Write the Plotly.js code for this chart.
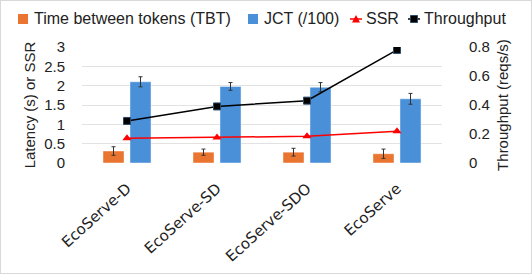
<!DOCTYPE html>
<html><head><meta charset="utf-8">
<script src="https://cdn.plot.ly/plotly-3.0.1.min.js"></script>
<style>html,body{margin:0;padding:0;background:#fff}#c{width:530px;height:272px;border:1px solid #d9d9d9}</style>
</head><body><div id="c"></div>
<script>
const categories = ["EcoServe-D", "EcoServe-SD", "EcoServe-SDO", "EcoServe"];
const tbt = [0.31, 0.28, 0.28, 0.24];
const tbtErr = [0.11, 0.08, 0.10, 0.12];
const jct = [2.10, 1.98, 1.96, 1.66];
const jctErr = [0.13, 0.10, 0.12, 0.14];
const ssr = [0.64, 0.66, 0.69, 0.82];
const throughput = [0.29, 0.39, 0.43, 0.78];
const seriesNames = ["Time between tokens (TBT)", "JCT (/100)", "SSR", "Throughput"];
const seriesColors = ["#ea7530", "#4a90d9", "#ff0000", "#000000"];

const font = "Liberation Sans, Arial, sans-serif";
const errStyle = {type: "data", visible: true, color: "#333", thickness: 1, width: 2};

const traces = [
  {type: "bar", name: seriesNames[0], x: categories, y: tbt,
   marker: {color: seriesColors[0], line: {color: "rgba(255,255,255,0.45)", width: 1}},
   error_y: Object.assign({array: tbtErr}, errStyle)},
  {type: "bar", name: seriesNames[1], x: categories, y: jct,
   marker: {color: seriesColors[1], line: {color: "rgba(255,255,255,0.45)", width: 1}},
   error_y: Object.assign({array: jctErr}, errStyle)},
  {type: "scatter", mode: "lines+markers", name: seriesNames[2], x: categories, y: ssr,
   line: {color: seriesColors[2], width: 1.5}, marker: {symbol: "triangle-up", size: 8, color: seriesColors[2]}},
  {type: "scatter", mode: "lines+markers", name: seriesNames[3], x: categories, y: throughput, yaxis: "y2",
   line: {color: seriesColors[3], width: 1.5}, marker: {symbol: "square", size: 7, color: seriesColors[3], line: {color: "#2a4a6a", width: 1}}}
];

// Manual legend (paper coordinates; plot spans x 82..442 px, y 47..163 px)
const px = p => (p - 82) / 360;
const py = p => (163 - p) / 116;
const legY = 19;
const legendTextX = [32, 262, 364, 422];
const annotations = seriesNames.map((n, i) => ({
  xref: "paper", yref: "paper", x: px(legendTextX[i]), y: py(legY), xanchor: "left", yanchor: "middle",
  text: n, showarrow: false, font: {family: font, size: 16, color: "#222"}
}));
const shapes = [
  {type: "rect", xref: "paper", yref: "paper", x0: px(18), x1: px(28), y0: py(24), y1: py(14), fillcolor: seriesColors[0], line: {width: 0}},
  {type: "rect", xref: "paper", yref: "paper", x0: px(248), x1: px(258), y0: py(24), y1: py(14), fillcolor: seriesColors[1], line: {width: 0}},
  {type: "line", xref: "paper", yref: "paper", x0: px(350), x1: px(362), y0: py(legY), y1: py(legY), line: {color: seriesColors[2], width: 1.5}},
  {type: "path", xref: "paper", yref: "paper",
   path: `M ${px(352)} ${py(22.5)} L ${px(360)} ${py(22.5)} L ${px(356)} ${py(15)} Z`, fillcolor: seriesColors[2], line: {width: 0}},
  {type: "line", xref: "paper", yref: "paper", x0: px(408), x1: px(420), y0: py(legY), y1: py(legY), line: {color: seriesColors[3], width: 1.5}},
  {type: "rect", xref: "paper", yref: "paper", x0: px(410.5), x1: px(417.5), y0: py(22.5), y1: py(15.5), fillcolor: seriesColors[3], line: {color: "#2a4a6a", width: 1}}
];

const layout = {
  width: 530, height: 272,
  margin: {l: 81, r: 89, t: 46, b: 110},
  paper_bgcolor: "#fff", plot_bgcolor: "#fff",
  font: {family: font, size: 15, color: "#222"},
  barmode: "group", bargap: 0.4, bargroupgap: 0.22,
  showlegend: false,
  annotations: annotations,
  shapes: shapes,
  xaxis: {automargin: false, tickangle: -42, tickfont: {family: "DejaVu Sans, sans-serif", size: 15, color: "#222"},
          showline: false, showgrid: false, ticks: "outside", ticklen: 10, tickcolor: "rgba(0,0,0,0)", zeroline: false},
  yaxis: {automargin: false, range: [0, 3], dtick: 0.5, showgrid: true, gridcolor: "#e2e2e2", gridwidth: 1, zeroline: false,
          ticks: "", showline: false, ticklabelstandoff: 16, tickfont: {size: 15},
          title: {text: "Latency (s) or SSR", font: {family: font, size: 15, color: "#222"}, standoff: 4}},
  yaxis2: {automargin: false, range: [0, 0.8], dtick: 0.2, overlaying: "y", side: "right", showgrid: false, zeroline: false,
           ticks: "", showline: false, tickformat: ".1~f", ticklabelstandoff: 26, tickfont: {size: 15},
           title: {text: "Throughput (reqs/s)", font: {family: font, size: 15, color: "#222"}, standoff: 8}}
};

Plotly.newPlot("c", traces, layout, {displayModeBar: false, staticPlot: true});
</script></body></html>
